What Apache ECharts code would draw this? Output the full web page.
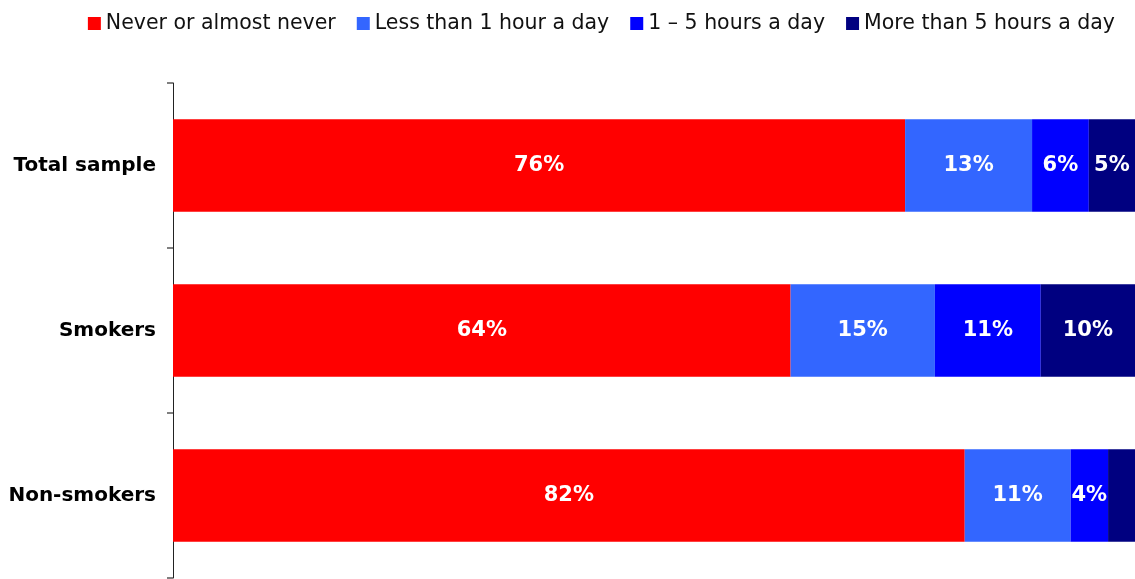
<!DOCTYPE html>
<html>
<head>
<meta charset="utf-8">
<script src="https://cdn.jsdelivr.net/npm/echarts@6/dist/echarts.min.js"></script>
<style>
html,body{margin:0;padding:0;background:#fff;}
#chart{width:1135px;height:579px;}
</style>
</head>
<body>
<div id="chart"></div>
<script>
const categories = ['Total sample', 'Smokers', 'Non-smokers'];
const seriesNames = ['Never or almost never', 'Less than 1 hour a day', '1 \u2013 5 hours a day', 'More than 5 hours a day'];
const neverValues = [76.1, 64.2, 82.3];
const lessThan1Values = [13.2, 15.0, 11.0];
const oneToFiveValues = [5.9, 11.0, 3.9];
const moreThan5Values = [4.8, 9.8, 2.8];
const colors = ['#FF0000', '#3366FF', '#0000FF', '#000080'];

const FONT = '"DejaVu Sans", Verdana, sans-serif';
const allValues = [neverValues, lessThan1Values, oneToFiveValues, moreThan5Values];

const chart = echarts.init(document.getElementById('chart'), null, {renderer: 'canvas'});
chart.setOption({
  animation: false,
  backgroundColor: '#ffffff',
  legend: {
    top: 13,
    right: 20,
    padding: 0,
    itemWidth: 13,
    itemHeight: 13,
    itemGap: 21,
    icon: 'rect',
    textStyle: {fontFamily: FONT, fontSize: 20.5, color: '#111'},
    data: seriesNames
  },
  grid: {left: 173, right: 0, top: 83, bottom: 1, containLabel: false},
  xAxis: {
    type: 'value', min: 0, max: 100, show: false
  },
  yAxis: {
    type: 'category',
    data: categories,
    inverse: true,
    axisLine: {show: true, lineStyle: {color: '#222', width: 1}},
    axisTick: {show: true, length: 6, lineStyle: {color: '#808080', width: 2}},
    axisLabel: {fontFamily: FONT, fontSize: 20, fontWeight: 'bold', color: '#000', margin: 17}
  },
  series: allValues.map((vals, i) => ({
    name: seriesNames[i],
    type: 'bar',
    stack: 'total',
    barWidth: '56%',
    itemStyle: {color: colors[i]},
    label: {
      show: true,
      position: 'inside',
      color: '#fff',
      fontFamily: FONT,
      fontSize: 21,
      fontWeight: 'bold',
      formatter: p => p.value < 3 ? '' : Math.round(p.value) + '%'
    },
    data: vals
  }))
});
</script>
</body>
</html>
